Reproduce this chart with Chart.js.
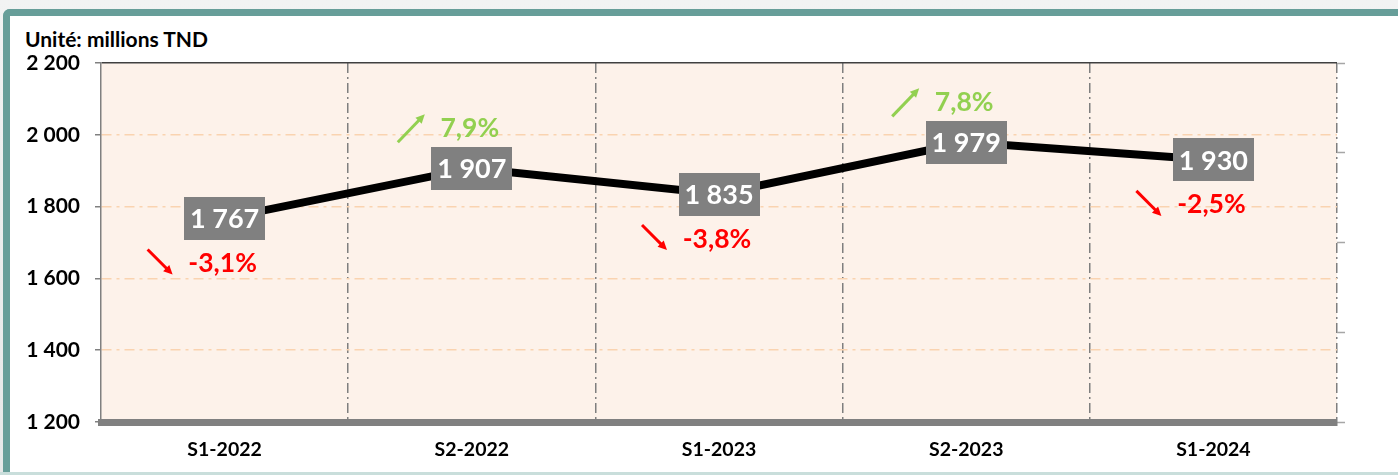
<!DOCTYPE html>
<html>
<head>
<meta charset="utf-8">
<script src="https://cdn.jsdelivr.net/npm/chart.js@4/dist/chart.umd.min.js"></script>
<style>
  html, body { margin:0; padding:0; }
  body { width:1398px; height:475px; background:linear-gradient(#f2f3f3,#e6e8e8); position:relative; overflow:hidden; font-family:Lato, "Open Sans", sans-serif; }
  #frame { position:absolute; left:3px; top:9px; width:1388px; height:456px; background:#fff;
           border-top:7px solid #679E99; border-left:7px solid #679E99; border-top-left-radius:7px; }
  #bottomline { position:absolute; left:0; top:472px; width:1398px; height:3px; background:#c9dedb; }
  #title { position:absolute; left:25px; top:26px; font-weight:bold; font-size:21px; color:#000; white-space:nowrap; }
  #c { position:absolute; left:0; top:0; }
</style>
</head>
<body>
<div id="frame"></div>
<div id="bottomline"></div>
<div id="title">Unité: millions TND</div>
<canvas id="c" width="1398" height="475"></canvas>
<script>
// ---- data ----
const categories = ["S1-2022", "S2-2022", "S1-2023", "S2-2023", "S1-2024"];
const values = [1767, 1907, 1835, 1979, 1930];
const changes = [-3.1, 7.9, -3.8, 7.8, -2.5];
const yTicks = [1200, 1400, 1600, 1800, 2000, 2200];

const fmtNum = v => String(v).replace(/\B(?=(\d{3})+(?!\d))/g, " ");
const fmtPct = v => v.toFixed(1).replace(".", ",") + "%";
const FONT = "Lato, 'Open Sans', sans-serif";

function arrow(ctx, x1, y1, x2, y2, color) {
  const ang = Math.atan2(y2 - y1, x2 - x1);
  const head = 10;
  ctx.save();
  ctx.strokeStyle = color; ctx.fillStyle = color; ctx.lineWidth = 3;
  ctx.beginPath();
  ctx.moveTo(x1, y1);
  ctx.lineTo(x2 - Math.cos(ang) * head * 0.7, y2 - Math.sin(ang) * head * 0.7);
  ctx.stroke();
  ctx.beginPath();
  ctx.moveTo(x2, y2);
  ctx.lineTo(x2 - head * Math.cos(ang - 0.45), y2 - head * Math.sin(ang - 0.45));
  ctx.lineTo(x2 - head * Math.cos(ang + 0.45), y2 - head * Math.sin(ang + 0.45));
  ctx.closePath();
  ctx.fill();
  ctx.restore();
}

const labelPlugin = {
  id: "labels",
  beforeDraw(chart) {
    const {ctx, chartArea: a} = chart;
    ctx.save();
    ctx.fillStyle = "#FDF2EA";
    ctx.fillRect(a.left, a.top, a.right - a.left, a.bottom - a.top);
    ctx.restore();
  },
  afterDatasetsDraw(chart) {
    const ctx = chart.ctx;
    const meta = chart.getDatasetMeta(0);
    meta.data.forEach((pt, i) => {
      const x = pt.x, y = pt.y;
      ctx.save();
      ctx.fillStyle = "#808080";
      ctx.fillRect(Math.round(x - 40.5), Math.round(y - 21.5), 81, 43);
      ctx.fillStyle = "#fff";
      ctx.font = "bold 27px " + FONT;
      ctx.textAlign = "center"; ctx.textBaseline = "middle";
      ctx.fillText(fmtNum(values[i]), x, y + 1);
      const c = changes[i];
      const neg = c < 0;
      const color = neg ? "#FF0000" : "#92D050";
      const ty = neg ? y + 44 : y - 41;
      ctx.fillStyle = color;
      ctx.font = "bold 26.5px " + FONT;
      ctx.fillText(fmtPct(c), x - 2, ty + 1);
      ctx.restore();
      if (neg) arrow(ctx, x - 77, ty - 13, x - 52, ty + 12, color);
      else arrow(ctx, x - 74, ty + 15, x - 47, ty - 13, color);
    });
  }
};

new Chart(document.getElementById("c"), {
  type: "line",
  data: {
    labels: categories,
    datasets: [{
      data: values,
      borderColor: "#000",
      borderWidth: 8,
      pointRadius: 0,
      tension: 0,
      fill: false
    }]
  },
  options: {
    responsive: false,
    animation: false,
    layout: { padding: { top: 63, left: 0, right: 0, bottom: 0 } },
    plugins: { legend: { display: false }, tooltip: { enabled: false }, title: { display: false } },
    scales: {
      x: {
        type: "category",
        offset: true,
        grid: {
          offset: true,
          color: c => c.index === 0 ? "rgba(0,0,0,0)" : "#7F7F7F",
          lineWidth: 1.5,
          drawTicks: true,
          tickLength: 4,
          tickColor: "#808080",
          tickWidth: 3
        },
        border: { display: true, color: "#808080", width: 7, dash: [10, 4, 2, 4] },
        ticks: { color: "#000", font: { family: FONT, size: 19.5, weight: "bold" }, padding: 12, maxRotation: 0 },
        afterFit: s => { s.height = 53; }
      },
      y: {
        min: yTicks[0],
        max: yTicks[yTicks.length - 1],
        afterBuildTicks: s => { s.ticks = yTicks.map(v => ({ value: v })); },
        grid: {
          color: c => c.tick && c.tick.value === 2200 ? "#404040" : (c.tick && c.tick.value === 1200 ? "rgba(0,0,0,0)" : "#FAD3B0"),
          lineWidth: 1.5,
          tickLength: 6,
          tickColor: "#808080",
          tickWidth: 1.5
        },
        border: { display: true, color: "#808080", width: 1.5,
                  dash: c => c.tick && c.tick.value === 2200 ? [] : [10, 5, 3, 5] },
        ticks: { color: "#000", font: { family: FONT, size: 21, weight: "bold" }, padding: 15,
                 callback: v => fmtNum(v) },
        afterFit: s => { s.width = 101; }
      },
      y2: {
        position: "right",
        min: 0, max: 4,
        ticks: { display: false, stepSize: 1 },
        grid: { drawOnChartArea: false, tickLength: 8, tickColor: "#A6A6A6", tickWidth: 1.5 },
        border: { display: false },
        afterFit: s => { s.width = 61; }
      }
    }
  },
  plugins: [labelPlugin]
});
</script>
</body>
</html>
